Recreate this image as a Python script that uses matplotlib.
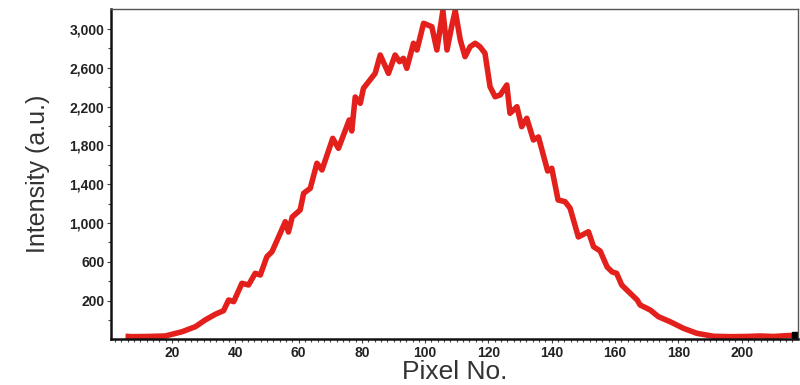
import matplotlib.pyplot as plt
from matplotlib.ticker import FixedLocator, MultipleLocator, FuncFormatter

# pixel position along the detector
pixel = [6.2, 7.4, 12.6, 17.9, 23.2, 27.4, 30.5, 33.7, 36.3, 37.9, 39.5, 42.1, 44.2, 46.3,
         47.9, 50.0, 51.6, 54.2, 55.8, 56.8, 58.0, 60.5, 61.6, 63.7, 65.8, 67.4, 70.8,
         72.6, 76.0, 76.8, 77.9, 79.5, 80.5, 84.2, 85.8, 88.4, 90.5, 91.9, 93.1, 94.2,
         96.3, 97.4, 99.5, 102.1, 103.7, 105.6, 106.9, 108.4, 109.5, 111.1, 112.6, 114.2,
         115.8, 117.3, 118.9, 120.5, 122.1, 123.7, 125.8, 126.8, 129.0, 130.5, 132.1,
         134.2, 135.8, 138.7, 140.0, 142.0, 144.2, 145.8, 148.4, 151.6, 153.2, 155.3,
         157.5, 159.1, 160.5, 162.1, 164.8, 167.0, 167.9, 171.1, 173.7, 177.4, 181.6,
         185.8, 191.1, 196.3, 201.6, 205.8, 210.0, 214.2, 216.9]

# measured intensity
intensity = [-170, -172, -170, -165, -121, -69, 0, 59, 96, 206, 189, 378, 361, 481,
             464, 653, 704, 894, 1013, 907, 1062, 1134, 1306, 1358, 1616, 1547, 1873,
             1770, 2062, 1949, 2299, 2234, 2389, 2543, 2732, 2543, 2732, 2663, 2698, 2595,
             2853, 2784, 3059, 3024, 2784, 3190, 2784, 3031, 3190, 2887, 2715, 2818,
             2853, 2818, 2750, 2405, 2302, 2320, 2423, 2131, 2199, 1993, 2080,
             1856, 1887, 1536, 1564, 1237, 1220, 1152, 856, 910, 756, 711,
             546, 495, 481, 361, 275, 206, 155, 103, 34, -18, -86,
             -137, -168, -172, -170, -165, -170, -162, -158]

y_labeled = [200, 600, 1000, 1400, 1800, 2200, 2600, 3000]
y_minor = [0, 400, 800, 1200, 1600, 2000, 2400, 2800]

plt.rcParams['font.family'] = ['Liberation Sans', 'DejaVu Sans']

fig = plt.figure(figsize=(8, 3.85), dpi=100)
ax = fig.add_axes([0.139, 0.1195, 0.8585, 0.857])

ax.plot(pixel, intensity, color="#e3201b", linewidth=4, solid_joinstyle="round")
ax.plot(pixel[-1], intensity[-1], marker="s", color="black", markersize=4)

ax.set_xlim(0.8, 217.8)
ax.set_ylim(-196, 3206)

ax.xaxis.set_major_locator(MultipleLocator(20))
ax.xaxis.set_minor_locator(MultipleLocator(2))
ax.yaxis.set_major_locator(FixedLocator(y_labeled))
ax.yaxis.set_minor_locator(FixedLocator(y_minor))
ax.yaxis.set_major_formatter(FuncFormatter(lambda v, p: f"{v:,.0f}"))

ax.tick_params(which="both", direction="out", color="#444444", width=0.8)
ax.tick_params(which="major", length=3, labelsize=10, pad=2)
ax.tick_params(which="minor", length=2.5)
for lab in ax.get_xticklabels() + ax.get_yticklabels():
    lab.set_fontweight("bold")
    lab.set_color("#222222")

for s in ["left", "bottom"]:
    ax.spines[s].set_linewidth(1.8)
    ax.spines[s].set_color("#111111")
for s in ["top", "right"]:
    ax.spines[s].set_linewidth(1.0)
    ax.spines[s].set_color("#555555")

ax.set_xlabel("Pixel No.", fontsize=19, color="#333333", labelpad=0)
ax.set_ylabel("Intensity (a.u.)", fontsize=18, color="#333333", labelpad=14)

fig.savefig("out.png", dpi=100)
